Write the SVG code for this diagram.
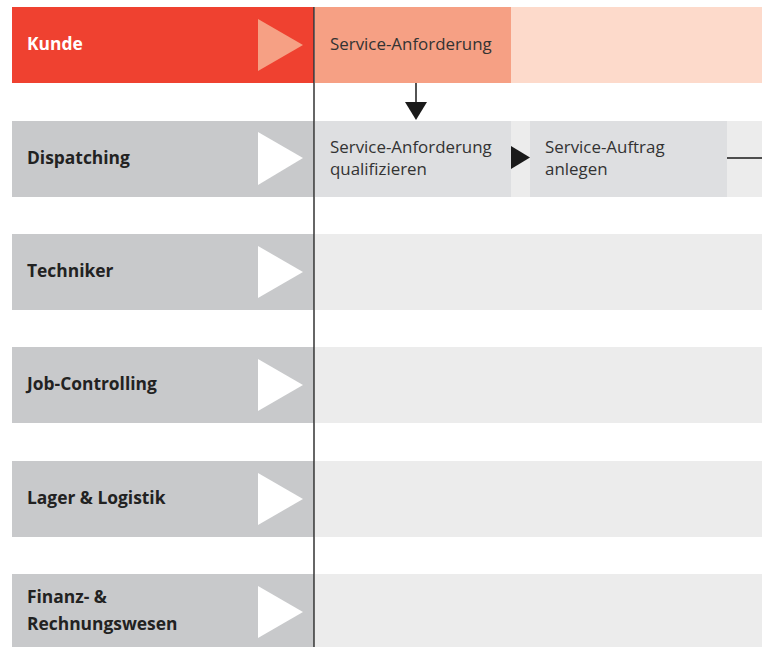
<svg xmlns="http://www.w3.org/2000/svg" width="762" height="647" viewBox="0 0 762 647">
<style>
.hdr{fill:#C8C9CB}
.tri{fill:#FFFFFF}
.lane{fill:#ECECEC}
.box{fill:#DEDFE1}
.lbl{font-family:"Open Sans","Noto Sans",sans-serif;font-weight:bold;font-size:17.4px;fill:#222222}
.txt{font-family:"Open Sans","Noto Sans",sans-serif;font-weight:normal;font-size:16.9px;fill:#333333}
.conn{stroke:#1a1a1a;stroke-width:1.5;fill:none}
.head{fill:#1a1a1a}
</style>
<rect width="762" height="647" fill="#FFFFFF"/>
<g id="lane-kunde">
<rect x="12" y="7" width="302" height="76" fill="#EF4130"/>
<polygon points="258,19 303,45 258,71" fill="#F6A084"/>
<text class="lbl" x="27" y="50" style="fill:#FFFFFF">Kunde</text>
<rect x="315" y="7" width="447" height="76" fill="#FDDACB"/>
</g>
<g id="node-service-anforderung">
<rect x="315" y="7" width="196" height="76" fill="#F6A084"/>
<text class="txt" x="330" y="50">Service-Anforderung</text>
</g>
<g id="lane-dispatching">
<rect class="hdr" x="12" y="121" width="302" height="76"/>
<polygon class="tri" points="258,132 303,158 258,185"/>
<text class="lbl" x="27" y="164">Dispatching</text>
<rect class="lane" x="315" y="121" width="447" height="76"/>
</g>
<g id="node-qualifizieren">
<rect class="box" x="315" y="121" width="196" height="76"/>
<text class="txt" x="330" y="153">Service-Anforderung</text>
<text class="txt" x="330" y="175">qualifizieren</text>
</g>
<g id="node-auftrag">
<rect class="box" x="530" y="121" width="197" height="76"/>
<text class="txt" x="545" y="153">Service-Auftrag</text>
<text class="txt" x="545" y="175">anlegen</text>
</g>
<g id="lane-techniker">
<rect class="hdr" x="12" y="234" width="302" height="76"/>
<polygon class="tri" points="258,246 303,272 258,298"/>
<text class="lbl" x="27" y="277">Techniker</text>
<rect class="lane" x="315" y="234" width="447" height="76"/>
</g>
<g id="lane-job-controlling">
<rect class="hdr" x="12" y="347" width="302" height="76"/>
<polygon class="tri" points="258,359 303,385 258,411"/>
<text class="lbl" x="27" y="390">Job-Controlling</text>
<rect class="lane" x="315" y="347" width="447" height="76"/>
</g>
<g id="lane-lager">
<rect class="hdr" x="12" y="461" width="302" height="76"/>
<polygon class="tri" points="258,473 303,499 258,525"/>
<text class="lbl" x="27" y="504">Lager &amp; Logistik</text>
<rect class="lane" x="315" y="461" width="447" height="76"/>
</g>
<g id="lane-finanz">
<rect class="hdr" x="12" y="574" width="302" height="76"/>
<polygon class="tri" points="258,586 303,612 258,638"/>
<text class="lbl" x="27" y="603">Finanz- &amp;</text>
<text class="lbl" x="27" y="630">Rechnungswesen</text>
<rect class="lane" x="315" y="574" width="447" height="76"/>
</g>
<g id="connectors">
<line x1="314" y1="7" x2="314" y2="647" stroke="#333333" stroke-width="1.5"/>
<line class="conn" x1="416" y1="83" x2="416" y2="103"/>
<polygon class="head" points="405,102 427,102 416,120"/>
<polygon class="head" points="511,146 530,157.5 511,169"/>
<line class="conn" x1="727" y1="158" x2="762" y2="158"/>
</g>
</svg>
